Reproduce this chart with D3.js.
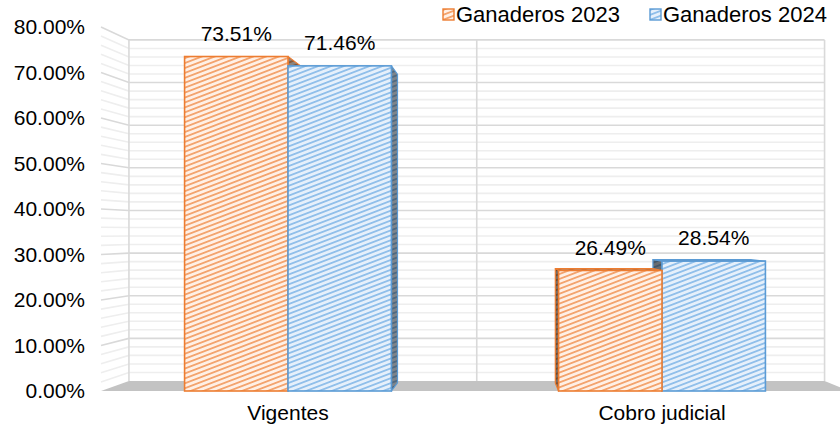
<!DOCTYPE html>
<html>
<head>
<meta charset="utf-8">
<script src="https://cdn.jsdelivr.net/npm/d3@7"></script>
<style>
  body { margin: 0; background: #fff; }
  svg { display: block; font-family: "Liberation Sans", Arial, sans-serif; }
</style>
</head>
<body>
<svg id="chart"></svg>
<script>
const categories = ["Vigentes", "Cobro judicial"];
const series = ["Ganaderos 2023", "Ganaderos 2024"];
const values2023 = [73.51, 26.49];
const values2024 = [71.46, 28.54];
const yTicks = [0, 10, 20, 30, 40, 50, 60, 70, 80];

const width = 840, height = 432;
const fontSize = 21;
const svg = d3.select("#chart").attr("width", width).attr("height", height);

const colors = {"Ganaderos 2023": "#ED7D31", "Ganaderos 2024": "#5B9BD5"};

// perspective: depth t in [0,1] pulls toward a vanishing point
const vx = 500, vy = 232, kx = 0.07, ky = 0.063;
const P = (x, y, t) => [x + (vx - x) * kx * t, y + (vy - y) * ky * t];
const barDepth = 0.8;

const x0 = d3.scaleBand().domain(categories).range([101, 849]);
const bw = x0.bandwidth();
const x1 = d3.scaleBand().domain(series).range([bw * 0.2235, bw * 0.7765]);
const y = d3.scaleLinear().domain([0, 80]).range([391, 27]);

// hatch patterns
const defs = svg.append("defs");
function hatch(id, bg, fg) {
  const p = defs.append("pattern")
      .attr("id", id)
      .attr("patternUnits", "userSpaceOnUse")
      .attr("width", 20).attr("height", 4.6)
      .attr("patternTransform", "rotate(-21)");
  p.append("rect").attr("width", 20).attr("height", 4.6).attr("fill", bg);
  p.append("rect").attr("y", 0).attr("width", 20).attr("height", 1.8).attr("fill", fg);
}
hatch("hatch-0", "#fff0e6", "#f3a26c");
hatch("hatch-1", "#e6f0fb", "#8fbeea");

// walls & floor
const line = d3.line();
const wall = svg.append("g");
const floorPts = [P(101, y(0), 0), P(849, y(0), 0), P(849, y(0), 1), P(101, y(0), 1)];
const grid = d3.range(0, 80.01, 2);
grid.forEach(v => {
  const major = Math.round(v) % 10 === 0;
  if (v === 0) return;
  wall.append("path")
      .attr("d", line([P(101, y(v), 0), P(101, y(v), 1), P(849, y(v), 1)]))
      .attr("fill", "none")
      .attr("stroke", major ? "#d9d9d9" : "#eeeeee")
      .attr("stroke-width", 1.6);
});
[101, x0(categories[1]), 849].forEach(xv => {
  wall.append("path")
      .attr("d", line([P(xv, y(0), 1), P(xv, y(80), 1)]))
      .attr("stroke", "#d9d9d9")
      .attr("stroke-width", 1.6);
});
wall.append("path")
    .attr("d", line(floorPts) + "Z")
    .attr("fill", "#c3c3c3");

// bars
const bars = [];
categories.forEach((c, i) => {
  [values2023[i], values2024[i]].forEach((v, j) => {
    const s = series[j];
    const xa = x0(c) + x1(s), xb = xa + x1.bandwidth();
    bars.push({c, s, j, v, xa, xb, yt: y(v), yb: y(0)});
  });
});
bars.sort((a, b) => Math.abs((b.xa + b.xb) / 2 - vx) - Math.abs((a.xa + a.xb) / 2 - vx));

const gBars = svg.append("g");
bars.forEach(b => {
  const g = gBars.append("g");
  const face = (pts, shade) => {
    g.append("path").attr("d", line(pts) + "Z")
        .attr("fill", `url(#hatch-${b.j})`);
    g.append("path").attr("d", line(pts) + "Z")
        .attr("fill", "#000").attr("fill-opacity", shade)
        .attr("stroke", colors[b.s]).attr("stroke-width", 1.2)
        .attr("stroke-linejoin", "round");
  };
  if (b.yt > vy) {
    face([P(b.xa, b.yt, 0), P(b.xb, b.yt, 0), P(b.xb, b.yt, barDepth), P(b.xa, b.yt, barDepth)], 0.4);
  }
  if (b.xb < vx) {
    face([P(b.xb, b.yt, 0), P(b.xb, b.yt, barDepth), P(b.xb, b.yb, barDepth), P(b.xb, b.yb, 0)], 0.45);
  } else if (b.xa > vx) {
    face([P(b.xa, b.yt, 0), P(b.xa, b.yt, barDepth), P(b.xa, b.yb, barDepth), P(b.xa, b.yb, 0)], 0.55);
  }
  g.append("rect")
      .attr("x", b.xa).attr("y", b.yt)
      .attr("width", b.xb - b.xa).attr("height", b.yb - b.yt)
      .attr("fill", `url(#hatch-${b.j})`)
      .attr("stroke", colors[b.s]).attr("stroke-width", 1.6);
});

// data labels
bars.forEach(b => {
  svg.append("text")
      .attr("x", (b.xa + b.xb) / 2)
      .attr("y", b.yt - 23)
      .attr("dy", "0.35em")
      .attr("text-anchor", "middle")
      .attr("font-size", fontSize)
      .attr("fill", "#000")
      .text(b.v.toFixed(2) + "%");
});

// y axis
const yAxis = svg.append("g")
    .attr("transform", "translate(100,0)")
    .call(d3.axisLeft(y).tickValues(yTicks).tickSize(0).tickPadding(15)
        .tickFormat(d => d.toFixed(2) + "%"));
yAxis.select(".domain").remove();
yAxis.selectAll("text").attr("font-size", fontSize).attr("fill", "#000")
    .attr("font-family", "Liberation Sans, Arial, sans-serif");

// x axis labels
const xAxis = svg.append("g")
    .attr("transform", "translate(0,405)")
    .call(d3.axisBottom(x0).tickSize(0).tickPadding(0));
xAxis.select(".domain").remove();
xAxis.selectAll("text").attr("font-size", fontSize).attr("fill", "#000")
    .attr("font-family", "Liberation Sans, Arial, sans-serif");

// legend
const legendX = [443, 650];
const legend = svg.append("g");
series.forEach((s, j) => {
  const g = legend.append("g").attr("transform", `translate(${legendX[j]},9)`);
  g.append("rect").attr("width", 11).attr("height", 11)
      .attr("fill", `url(#hatch-${j})`)
      .attr("stroke", colors[s]).attr("stroke-width", 1.4);
  g.append("text").attr("x", 13).attr("y", 5.5).attr("dy", "0.35em")
      .attr("font-size", fontSize + 1).attr("fill", "#000").text(s);
});
</script>
</body>
</html>
